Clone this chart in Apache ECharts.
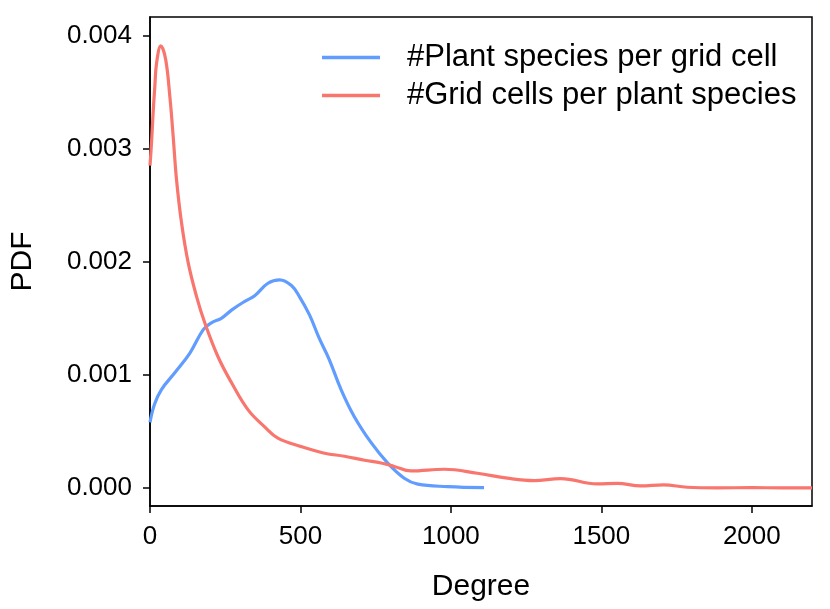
<!DOCTYPE html>
<html>
<head>
<meta charset="utf-8">
<script src="https://cdn.jsdelivr.net/npm/echarts@6/dist/echarts.min.js"></script>
<style>
  html, body { margin: 0; padding: 0; background: #fff; }
  #echartsContainer { width: 830px; height: 609px; }
</style>
</head>
<body>
<div id="echartsContainer"></div>
<script>
  // 数据
  var plantX = [0, 15, 38, 83, 132, 177, 204, 237, 272, 315, 348, 392, 431, 470, 497, 530, 563, 595, 635, 679, 735, 790, 845, 890, 989, 1110]
  var plantY = [0.00058, 0.00074, 0.00087, 0.00102, 0.00119, 0.00140, 0.00146, 0.00150, 0.001575, 0.00165, 0.00170, 0.00181, 0.00184, 0.00179, 0.00169, 0.00153, 0.00132, 0.00114, 0.00087, 0.00063, 0.00040, 0.00022, 0.000086, 0.000033, 0.000012, 0.000003]
  var gridX = [0, 5, 10, 16, 22, 36, 52, 66, 77, 88, 105, 127, 155, 182, 226, 271, 326, 381, 425, 503, 580, 646, 713, 768, 812, 867, 978, 1088, 1188, 1276, 1365, 1486, 1553, 1630, 1707, 1785, 1884, 2000, 2100, 2200]
  var gridY = [0.00285, 0.00305, 0.0033, 0.00355, 0.00376, 0.00391, 0.00379, 0.00346, 0.00311, 0.00273, 0.00234, 0.00199, 0.00169, 0.00146, 0.00116, 0.00093, 0.00069, 0.00054, 0.00044, 0.000365, 0.000307, 0.00028, 0.000245, 0.00022, 0.00019, 0.00015, 0.000165, 0.00013, 0.000086, 0.000065, 0.000082, 0.000035, 0.00004, 0.000018, 0.000027, 0.000006, 0.000001, 0.000002, 0.000001, 0.000001]
  var xTicks = [0, 500, 1000, 1500, 2000]
  var yTicks = [0, 0.001, 0.002, 0.003, 0.004]
  var seriesNames = ['#Plant species per grid cell', '#Grid cells per plant species']

  function pairs (xs, ys) {
    var res = []
    for (var i = 0; i < xs.length; i++) {
      res.push([xs[i], ys[i]])
    }
    return res
  }

  var font = 'Liberation Sans, Arial, Helvetica, sans-serif'
  var chart = echarts.init(document.getElementById('echartsContainer'))
  chart.setOption({
    animation: false,
    backgroundColor: '#fff',
    grid: {
      left: 148, right: 18, top: 17, bottom: 103,
      show: true, borderColor: '#000', borderWidth: 1.5
    },
    legend: {
      orient: 'vertical',
      left: 317, top: 37,
      icon: 'rect',
      itemWidth: 58, itemHeight: 3.5,
      itemGap: 7,
      data: seriesNames,
      textStyle: {
        fontFamily: font, fontSize: 31, color: '#000',
        lineHeight: 30, padding: [0, 0, 0, 22]
      }
    },
    xAxis: {
      type: 'value',
      min: 0, max: 2200,
      name: 'Degree', nameLocation: 'middle', nameGap: 66,
      nameTextStyle: {fontFamily: font, fontSize: 30, color: '#000'},
      axisLine: {show: true, onZero: false, lineStyle: {color: '#000', width: 1.5}},
      axisTick: {show: true, length: 7, customValues: xTicks, lineStyle: {color: '#000', width: 1.5}},
      axisLabel: {
        customValues: xTicks, margin: 18, fontFamily: font, fontSize: 26, color: '#000',
        formatter: function (v) { return String(v) }
      },
      splitLine: {show: false}
    },
    yAxis: {
      type: 'value',
      min: -0.00016, max: 0.004165,
      name: 'PDF', nameLocation: 'middle', nameGap: 112, nameRotate: 90,
      nameTextStyle: {fontFamily: font, fontSize: 30, color: '#000'},
      axisLine: {show: true, onZero: false, lineStyle: {color: '#000', width: 1.5}},
      axisTick: {show: true, length: 7, customValues: yTicks, lineStyle: {color: '#000', width: 1.5}},
      axisLabel: {
        customValues: yTicks, margin: 18, fontFamily: font, fontSize: 26, color: '#000',
        formatter: function (v) { return v.toFixed(3) }
      },
      splitLine: {show: false}
    },
    series: [{
      name: seriesNames[0],
      type: 'line',
      data: pairs(plantX, plantY),
      smooth: 0.4,
      showSymbol: false,
      symbol: 'none',
      color: '#619CFF',
      lineStyle: {color: '#619CFF', width: 3.2}
    }, {
      name: seriesNames[1],
      type: 'line',
      data: pairs(gridX, gridY),
      smooth: 0.4,
      showSymbol: false,
      symbol: 'none',
      color: '#F8766D',
      lineStyle: {color: '#F8766D', width: 3.2}
    }]
  })
</script>
</body>
</html>
